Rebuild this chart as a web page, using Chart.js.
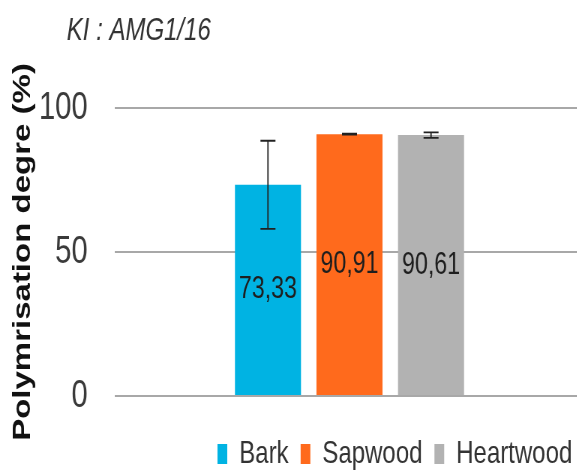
<!DOCTYPE html>
<html>
<head>
<meta charset="utf-8">
<script src="https://cdn.jsdelivr.net/npm/chart.js@4.4.1/dist/chart.umd.min.js"></script>
<style>
    html, body { margin: 0; padding: 0; background: #fff; overflow: hidden; }
    /* the reference is a horizontally squeezed chart, so draw wide and squeeze */
    #wrap { position: relative; width: 779px; height: 480px; transform: scaleX(0.75); transform-origin: 0 0; }
</style>
</head>
<body>
<div id="wrap"><canvas id="chart"></canvas></div>
<script>
// data
const categories = ['KI : AMG1/16'];
const seriesNames = ['Bark', 'Sapwood', 'Heartwood'];
const seriesValues = [73.33, 90.91, 90.61];
const seriesErrors = [15.3, 0.15, 0.95];
const valueLabels = ['73,33', '90,91', '90,61'];
const seriesColors = ['#00B3E3', '#FF6A1C', '#B2B2B2'];
const yTicks = [0, 50, 100];

const sans = "'Liberation Sans', Arial, sans-serif";

// title, error bars and value labels
const extras = {
    id: 'extras',
    afterDatasetsDraw(chart) {
        const ctx = chart.ctx;
        const y = chart.scales.y;
        ctx.save();
        seriesValues.forEach((v, i) => {
            const bar = chart.getDatasetMeta(i).data[0];
            const top = y.getPixelForValue(v + seriesErrors[i]);
            const bot = y.getPixelForValue(v - seriesErrors[i]);
            ctx.strokeStyle = '#222';
            ctx.lineWidth = 1.8;
            ctx.beginPath();
            ctx.moveTo(bar.x, top); ctx.lineTo(bar.x, bot);
            ctx.moveTo(bar.x - 10, top); ctx.lineTo(bar.x + 10, top);
            ctx.moveTo(bar.x - 10, bot); ctx.lineTo(bar.x + 10, bot);
            ctx.stroke();

            ctx.fillStyle = '#1e1e1e';
            ctx.font = '31px ' + sans;
            ctx.textAlign = 'center';
            ctx.textBaseline = 'middle';
            ctx.fillText(valueLabels[i], bar.x, (bar.y + bar.base) / 2);
        });
        ctx.fillStyle = '#333';
        ctx.font = 'italic 32px ' + sans;
        ctx.textAlign = 'left';
        ctx.textBaseline = 'middle';
        ctx.fillText(categories[0], 89, 31);
        ctx.restore();
    }
};

new Chart(document.getElementById('chart'), {
    type: 'bar',
    data: {
        labels: categories,
        datasets: seriesNames.map((name, i) => ({
            label: name,
            data: [seriesValues[i]],
            backgroundColor: seriesColors[i],
            categoryPercentage: 0.521,
            barPercentage: 0.81
        }))
    },
    options: {
        responsive: true,
        maintainAspectRatio: false,
        animation: false,
        layout: { padding: { top: 108, left: 0, right: 0, bottom: 0 } },
        plugins: {
            title: { display: false },
            tooltip: { enabled: false },
            legend: {
                position: 'bottom',
                align: 'end',
                labels: {
                    boxWidth: 13,
                    boxHeight: 20,
                    padding: 16,
                    color: '#333',
                    font: { family: sans, size: 32 }
                }
            }
        },
        scales: {
            x: {
                ticks: { display: false },
                grid: { display: false },
                border: { display: false },
                afterFit(scale) { scale.height = 26; }
            },
            y: {
                min: 0,
                max: 100,
                afterBuildTicks(scale) {
                    scale.ticks = yTicks.map(v => ({ value: v }));
                },
                afterFit(scale) { scale.width = 153; },
                border: { display: false },
                grid: { color: '#A8A8A8', lineWidth: 2, drawTicks: false },
                ticks: {
                    padding: 36,
                    color: '#3a3a3a',
                    font: { family: sans, size: 39 }
                },
                title: {
                    display: true,
                    text: 'Polymrisation degre (%)',
                    color: '#111',
                    padding: { top: 11, bottom: 0 },
                    font: { family: sans, size: 33, weight: 'bold' }
                }
            }
        }
    },
    plugins: [extras]
});
</script>
</body>
</html>
